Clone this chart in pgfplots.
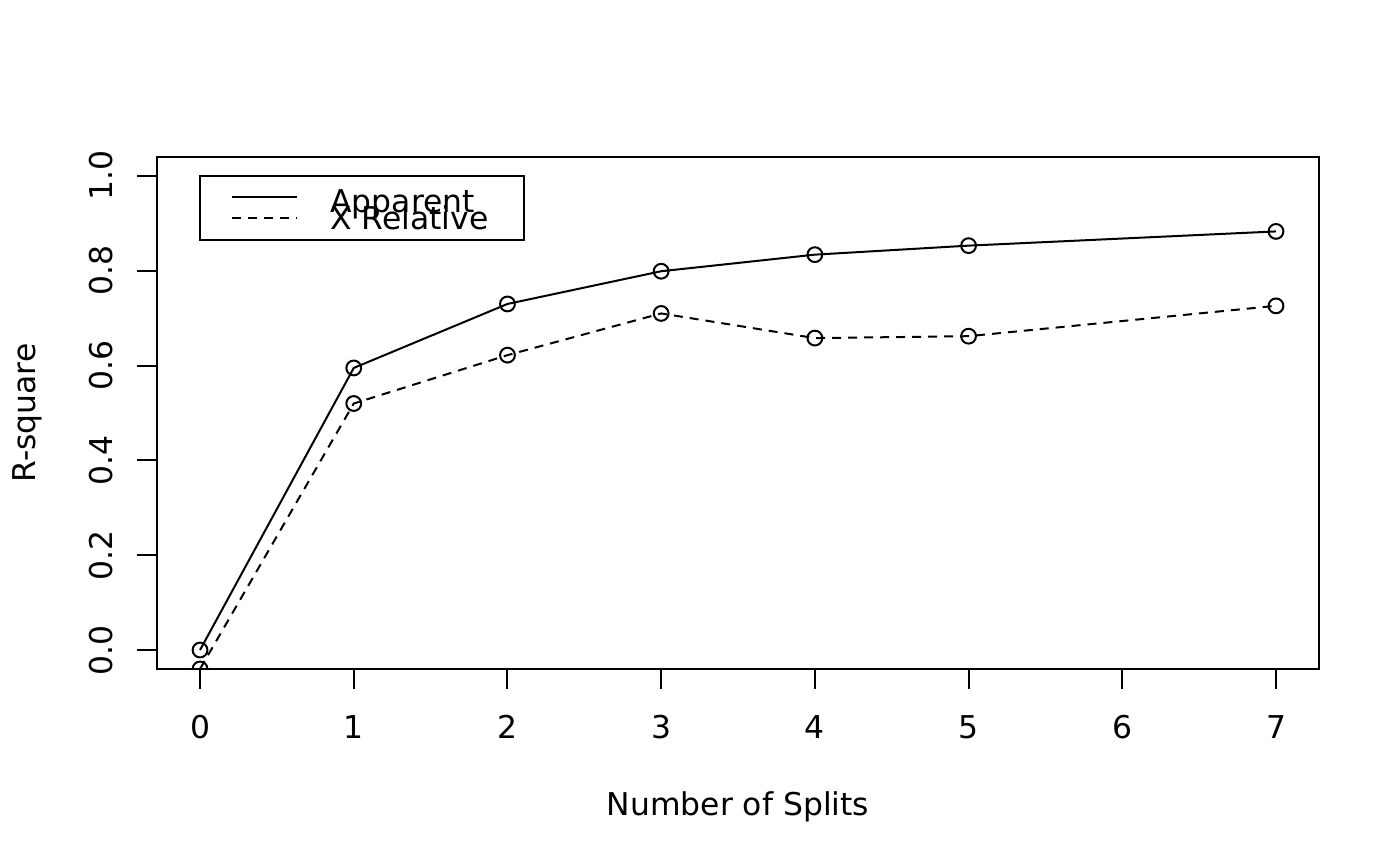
\documentclass[border=0pt]{standalone}
\usepackage{pgfplots}
\pgfplotsset{compat=1.18}
\usepackage{fontspec}
\setmainfont{DejaVu Sans}
\begin{document}
\fontsize{15.7}{18}\selectfont
\begin{tikzpicture}
\useasboundingbox (0,0) rectangle (700pt,433pt);
\begin{axis}[
  at={(78.5pt,98.5pt)}, anchor=south west,
  scale only axis, width=581pt, height=256pt,
  xmin=-0.28, xmax=7.28, ymin=-0.04, ymax=1.04,
  xtick={0,1,2,3,4,5,6,7}, ytick={0,0.2,0.4,0.6,0.8,1.0},
  xtick pos=bottom, ytick pos=left,
  tick align=outside, major tick length=10pt,
  every tick/.style={black, line width=1pt},
  axis line style={line width=1pt},
  /pgf/number format/assume math mode=true,
  ticklabel style={font=\fontsize{15.7}{18}\selectfont},
  xticklabel style={anchor=base},
  xticklabel shift=24.5pt,
  yticklabel style={rotate=90, anchor=base, /pgf/number format/.cd, fixed, fixed zerofill, precision=1},
  yticklabel shift=12.5pt,
  clip=true, clip marker paths=true,
]
\addplot[black, line width=1pt, mark=o, mark size=3.7pt, mark options={solid}] coordinates {
  (0,0.000) (1,0.595) (2,0.730) (3,0.799) (4,0.834) (5,0.853) (7,0.883)
};
\addplot[black, line width=1pt, dash pattern=on 4.5pt off 3.5pt, mark=o, mark size=3.7pt, mark options={solid}] coordinates {
  (0,-0.0399) (1,0.520) (2,0.622) (3,0.710) (4,0.658) (5,0.662) (7,0.726)
};
\end{axis}
% legend
\draw[line width=0.8pt] (100pt,313pt) rectangle (262pt,345pt);
\draw[line width=1pt] (116pt,334.6pt) -- (148.5pt,334.6pt);
\draw[line width=1pt, dash pattern=on 4.5pt off 3.5pt] (116pt,324pt) -- (148.5pt,324pt);
\node[anchor=base west, inner sep=0] at (165pt,326.8pt) {Apparent};
\node[anchor=base west, inner sep=0] at (165pt,318.3pt) {X Relative};
% axis labels
\node[anchor=base, inner sep=0] at (369pt,25.5pt) {Number of Splits};
\node[anchor=base, inner sep=0, rotate=90] at (17.5pt,226.5pt) {R-square};
\end{tikzpicture}
\end{document}
